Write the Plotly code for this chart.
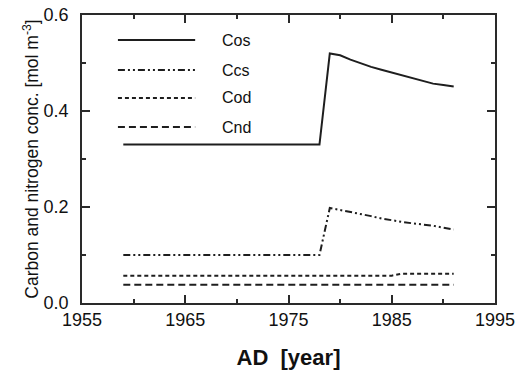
import plotly.graph_objects as go

# ---- data ----
years_cos = [1959, 1978, 1979, 1980, 1981, 1982, 1983, 1984, 1985, 1986, 1987, 1988, 1989, 1990, 1991]
cos_vals = [0.33, 0.33, 0.520, 0.516, 0.507, 0.499, 0.492, 0.486, 0.480, 0.474, 0.468, 0.462, 0.457, 0.454, 0.451]

years_ccs = [1959, 1978, 1979, 1980, 1981, 1982, 1983, 1984, 1985, 1986, 1987, 1988, 1989, 1990, 1991]
ccs_vals = [0.100, 0.100, 0.198, 0.194, 0.189, 0.185, 0.181, 0.176, 0.172, 0.169, 0.166, 0.164, 0.161, 0.157, 0.153]

years_cod = [1959, 1985, 1986, 1991]
cod_vals = [0.057, 0.057, 0.061, 0.061]

years_cnd = [1959, 1991]
cnd_vals = [0.038, 0.038]

series_names = ["Cos", "Ccs", "Cod", "Cnd"]
x_ticks = [1955, 1965, 1975, 1985, 1995]
y_ticks = [0.0, 0.2, 0.4, 0.6]

# ---- styles ----
line_color = "#1e1e1e"
dashes = ["solid", "7px,3px,2px,3px,2px,3px", "4px,3px", "7px,4px"]
FONT = "Liberation Sans, Arial, Helvetica, sans-serif"

fig = go.Figure()
data = [(years_cos, cos_vals), (years_ccs, ccs_vals), (years_cod, cod_vals), (years_cnd, cnd_vals)]
for (xs, ys), name, dash in zip(data, series_names, dashes):
    fig.add_trace(go.Scatter(x=xs, y=ys, mode="lines", name=name, showlegend=False,
                             line=dict(color=line_color, width=2, dash=dash)))

# manual legend (long sample lines as in the reference)
leg_x0, leg_x1, leg_tx = 0.087, 0.274, 0.334
leg_rows = [0.913, 0.809, 0.712, 0.611]
for name, dash, yy in zip(series_names, dashes, leg_rows):
    fig.add_shape(type="line", xref="paper", yref="paper", x0=leg_x0, x1=leg_x1, y0=yy, y1=yy,
                  line=dict(color=line_color, width=2, dash=dash))
    fig.add_annotation(xref="paper", yref="paper", x=leg_tx, y=yy, text=name, showarrow=False,
                       xanchor="left", yanchor="middle", font=dict(size=16, color="#111", family=FONT))

axis_common = dict(showline=True, linecolor="#2a2a2a", linewidth=1.5, mirror="ticks",
                   ticks="inside", ticklen=8, tickwidth=1.5, tickcolor="#2a2a2a",
                   showgrid=False, zeroline=False, automargin=False,
                   tickfont=dict(size=18, color="#111", family=FONT))

fig.update_xaxes(range=[1955, 1995], tickvals=x_ticks, ticktext=[str(v) for v in x_ticks],
                 minor=dict(ticks="inside", ticklen=4, tickwidth=1.5, tickcolor="#2a2a2a", dtick=5, tick0=1955),
                 title=dict(text="<b>AD  [year]</b>", font=dict(size=22, color="#111", family=FONT), standoff=20),
                 ticklabelstandoff=0,
                 **axis_common)
fig.update_yaxes(range=[0, 0.6], tickvals=y_ticks, ticktext=[f"{v:.1f}" for v in y_ticks],
                 minor=dict(ticks="inside", ticklen=4, tickwidth=1.5, tickcolor="#2a2a2a", dtick=0.1, tick0=0),
                 title=dict(text="Carbon and nitrogen conc. [mol m<sup>-3</sup>]",
                            font=dict(size=17.5, color="#111", family=FONT), standoff=0),
                 ticklabelstandoff=8,
                 **axis_common)

fig.update_layout(width=520, height=370, margin=dict(l=82, r=25, t=15, b=67),
                  plot_bgcolor="white", paper_bgcolor="white",
                  font=dict(family=FONT, color="#111"))

fig.write_html("out.html")
